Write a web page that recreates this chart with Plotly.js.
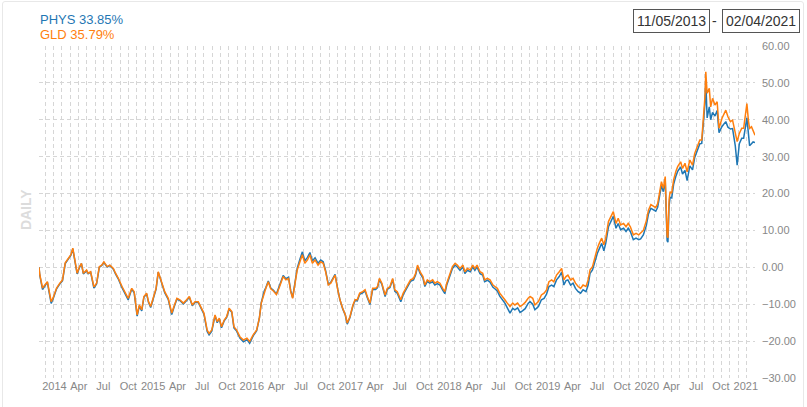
<!DOCTYPE html>
<html><head><meta charset="utf-8">
<script src="https://cdn.plot.ly/plotly-3.0.1.min.js"></script>
<style>
html,body{margin:0;padding:0;background:#fff;overflow:hidden;}
#chart{width:807px;height:407px;}
#frame{position:absolute;left:2px;top:1px;width:800px;height:420px;border:1px solid #e8e8e8;border-radius:3px;pointer-events:none;}
</style></head><body>
<div id="chart"></div><div id="frame"></div>
<script>
const dates = ['2013-11-05','2013-11-08','2013-11-18','2013-11-27','2013-12-06','2013-12-13','2013-12-20','2013-12-27',
'2014-01-09','2014-01-21','2014-01-31','2014-02-10','2014-02-21','2014-03-03','2014-03-10','2014-03-18','2014-03-26',
'2014-04-04','2014-04-11','2014-04-18','2014-04-30','2014-05-06','2014-05-15','2014-05-27','2014-06-06','2014-06-16',
'2014-06-25','2014-07-03','2014-07-15','2014-07-25','2014-08-07','2014-08-15','2014-08-25','2014-09-08','2014-09-19',
'2014-10-01','2014-10-14','2014-10-23','2014-11-03','2014-11-11','2014-11-20','2014-11-28','2014-12-08','2014-12-15',
'2014-12-23','2015-01-02','2015-01-12','2015-01-20','2015-01-26','2015-02-05','2015-02-13','2015-02-26','2015-03-11',
'2015-03-19','2015-03-30','2015-04-10','2015-04-23','2015-05-05','2015-05-15','2015-05-26','2015-06-05','2015-06-17',
'2015-06-30','2015-07-08','2015-07-20','2015-07-27','2015-08-06','2015-08-18','2015-08-26','2015-09-03','2015-09-11',
'2015-09-21','2015-09-30','2015-10-09','2015-10-19','2015-10-27','2015-11-06','2015-11-18','2015-12-01','2015-12-14',
'2015-12-24','2016-01-06','2016-01-19','2016-01-29','2016-02-05','2016-02-16','2016-02-22','2016-03-02','2016-03-11',
'2016-03-21','2016-04-01','2016-04-12','2016-04-26','2016-05-06','2016-05-16','2016-05-24','2016-05-31','2016-06-09',
'2016-06-17','2016-06-27','2016-07-06','2016-07-15','2016-07-25','2016-08-03','2016-08-12','2016-08-22','2016-09-02',
'2016-09-12','2016-09-21','2016-09-30','2016-10-10','2016-10-19','2016-10-28','2016-11-04','2016-11-14','2016-11-22',
'2016-12-02','2016-12-12','2016-12-19','2016-12-29','2017-01-09','2017-01-17','2017-01-25','2017-02-03','2017-02-14',
'2017-02-23','2017-03-03','2017-03-13','2017-03-23','2017-04-03','2017-04-10','2017-04-17','2017-04-26','2017-05-08',
'2017-05-16','2017-05-26','2017-06-05','2017-06-13','2017-06-22','2017-07-05','2017-07-14','2017-07-24','2017-08-02',
'2017-08-10','2017-08-21','2017-08-29','2017-09-05','2017-09-14','2017-09-25','2017-10-02','2017-10-11','2017-10-20',
'2017-10-31','2017-11-08','2017-11-17','2017-11-27','2017-12-07','2017-12-15','2017-12-22','2018-01-03','2018-01-12',
'2018-01-22','2018-01-30','2018-02-09','2018-02-20','2018-02-27','2018-03-08','2018-03-19','2018-03-28','2018-04-05',
'2018-04-13','2018-04-24','2018-05-04','2018-05-11','2018-05-21','2018-05-31','2018-06-11','2018-06-18','2018-06-27',
'2018-07-06','2018-07-17','2018-07-25','2018-08-03','2018-08-13','2018-08-23','2018-08-31','2018-09-10','2018-09-19',
'2018-09-28','2018-10-08','2018-10-19','2018-10-26','2018-11-05','2018-11-13','2018-11-26','2018-12-07','2018-12-17',
'2018-12-26','2019-01-04','2019-01-14','2019-01-22','2019-02-01','2019-02-11','2019-02-20','2019-02-28','2019-03-08',
'2019-03-15','2019-03-25','2019-04-03','2019-04-12','2019-04-22','2019-05-01','2019-05-10','2019-05-21','2019-05-29',
'2019-06-05','2019-06-14','2019-06-24','2019-07-02','2019-07-09','2019-07-18','2019-07-26','2019-08-02','2019-08-12',
'2019-08-20','2019-08-30','2019-09-09','2019-09-17','2019-09-26','2019-10-07','2019-10-16','2019-10-24','2019-11-01',
'2019-11-12','2019-11-22','2019-12-02','2019-12-09','2019-12-19','2019-12-30','2020-01-07','2020-01-16','2020-01-24',
'2020-02-03','2020-02-10','2020-02-19','2020-02-24','2020-03-02','2020-03-09','2020-03-16','2020-03-19','2020-03-23',
'2020-03-27','2020-04-02','2020-04-09','2020-04-17','2020-04-24','2020-05-05','2020-05-12','2020-05-21','2020-05-29',
'2020-06-08','2020-06-18','2020-06-26','2020-07-06','2020-07-15','2020-07-22','2020-07-28','2020-08-03','2020-08-06',
'2020-08-11','2020-08-19','2020-08-24','2020-08-31','2020-09-09','2020-09-17','2020-09-24','2020-10-05','2020-10-12',
'2020-10-19','2020-10-27','2020-11-05','2020-11-13','2020-11-23','2020-11-30','2020-12-08','2020-12-17','2020-12-24',
'2021-01-05','2021-01-11','2021-01-15','2021-01-22','2021-01-28','2021-02-04'];

const gldValues = [0.0,-2.0,-5.6,-4.8,-3.9,-6.6,-9.3,-8.3,
-5.6,-4.3,-3.4,1.2,2.5,3.4,5.2,1.5,-1.6,
0.2,1.1,-1.6,-0.7,-1.6,-1.2,-5.3,-4.3,0.2,
0.6,1.5,0.2,0.6,-0.3,-1.6,-2.9,-5.2,-6.6,
-8.4,-5.7,-6.6,-12.9,-10.2,-11.5,-7.9,-7.0,-9.3,
-10.6,-7.9,-5.7,-1.2,-2.5,-4.3,-6.6,-8.4,-12.4,
-10.6,-8.4,-8.8,-9.7,-8.8,-7.9,-10.2,-9.3,-9.3,
-11.1,-12.4,-17.0,-17.9,-17.0,-12.9,-14.7,-13.8,-16.1,
-14.3,-13.4,-11.1,-12.0,-16.1,-17.0,-18.8,-19.7,-19.2,
-20.1,-18.3,-17.0,-13.8,-9.7,-6.6,-5.7,-3.9,-5.8,
-6.4,-7.4,-5.4,-2.5,-3.4,-3.0,-6.6,-8.4,-4.3,
-0.7,1.5,3.4,1.1,2.0,3.4,1.1,2.0,0.6,
1.5,1.1,-1.2,-4.8,-4.3,-3.0,-2.1,-6.1,-8.8,
-11.1,-12.9,-15.1,-13.4,-10.2,-8.8,-8.8,-7.0,-6.6,
-6.1,-7.9,-9.7,-5.7,-5.7,-5.2,-3.0,-4.3,-7.5,
-5.7,-5.2,-3.0,-6.1,-6.6,-8.8,-7.0,-5.7,-4.3,
-3.4,-3.0,-1.6,0.6,-1.2,-2.5,-4.8,-3.4,-3.9,
-3.4,-4.3,-3.9,-4.3,-5.7,-6.6,-4.3,-1.6,0.2,
1.1,0.6,-0.3,0.6,-1.2,-0.3,-0.7,0.6,-0.3,
0.6,-1.2,-1.6,-3.4,-3.0,-3.4,-4.8,-5.2,-5.7,
-7.0,-7.9,-8.8,-9.7,-10.6,-9.7,-10.2,-9.7,-10.6,
-10.2,-9.5,-8.4,-7.9,-8.4,-10.2,-9.3,-7.5,-7.0,
-6.1,-3.9,-3.4,-3.9,-2.1,-1.2,-0.3,-3.4,-2.5,
-2.1,-3.4,-3.0,-4.3,-5.2,-5.7,-4.8,-5.2,-3.4,
-0.7,0.2,3.4,5.2,6.5,7.9,6.1,7.9,12.4,
13.7,15.1,11.9,13.3,11.5,11.9,11.0,11.9,11.0,
8.8,9.2,8.8,9.3,10.0,12.6,15.5,17.0,16.6,
16.2,17.3,21.9,23.2,21.4,24.6,8.5,8.0,18.2,
20.5,20.1,23.7,25.9,27.3,28.6,26.8,28.2,25.9,
29.1,27.7,30.9,32.7,34.5,34.5,39.9,46.3,53.0,
47.2,48.5,43.5,45.8,44.0,44.9,37.7,40.4,41.3,
42.6,40.8,39.5,39.9,36.3,34.1,36.3,37.7,37.7,
44.4,39.5,37.7,38.1,37.2,35.79];

const physValues = [0.0,-2.2,-6.0,-5.0,-4.0,-7.0,-9.8,-8.6,
-5.8,-4.5,-3.6,1.0,2.3,3.3,5.0,1.4,-1.8,
0.0,1.0,-1.8,-0.9,-1.7,-1.3,-5.6,-4.5,0.0,
0.5,1.3,0.1,0.5,-0.5,-1.8,-3.1,-5.5,-6.9,
-8.8,-5.9,-6.9,-13.2,-10.5,-11.8,-8.1,-7.2,-9.5,
-10.9,-8.1,-5.9,-1.3,-2.7,-4.5,-6.9,-8.7,-12.8,
-10.9,-8.6,-9.0,-9.9,-9.0,-8.1,-10.4,-9.5,-9.5,
-11.4,-12.7,-17.4,-18.3,-17.3,-13.1,-15.0,-14.0,-16.4,
-14.5,-13.6,-11.3,-12.2,-16.4,-17.3,-19.2,-20.2,-19.6,
-20.6,-18.6,-17.2,-13.8,-9.6,-6.4,-5.5,-3.7,-5.6,
-6.2,-7.2,-5.2,-2.2,-3.1,-2.7,-6.4,-8.2,-4.0,
-0.2,2.2,4.2,1.8,2.7,4.0,1.7,2.6,1.1,
2.0,1.5,-0.9,-4.6,-4.1,-2.8,-1.9,-6.0,-8.8,
-11.2,-13.0,-15.4,-13.6,-10.4,-9.0,-9.1,-7.3,-6.9,
-6.4,-8.2,-10.1,-6.0,-6.0,-5.5,-3.3,-4.6,-7.9,
-6.0,-5.5,-3.3,-6.5,-7.0,-9.3,-7.4,-6.1,-4.7,
-3.8,-3.4,-2.0,0.2,-1.6,-2.9,-5.2,-3.8,-4.3,
-3.9,-4.8,-4.4,-4.8,-6.2,-7.1,-4.8,-2.1,-0.3,
0.6,0.1,-0.8,0.1,-1.7,-0.8,-1.2,0.1,-0.8,
0.1,-1.7,-2.1,-3.9,-3.5,-4.0,-5.4,-5.8,-6.4,
-7.8,-8.8,-9.7,-11.0,-12.4,-11.1,-11.5,-11.0,-12.2,
-11.8,-11.2,-9.8,-9.3,-10.0,-11.5,-10.6,-8.8,-8.4,
-7.3,-5.2,-4.8,-5.2,-3.4,-2.5,-1.3,-4.8,-3.6,
-3.4,-4.8,-4.3,-5.7,-6.6,-7.0,-6.1,-6.6,-4.8,
-1.6,-0.7,2.0,3.8,5.0,6.5,4.5,6.5,11.0,
12.4,13.8,10.6,11.9,10.2,10.6,9.7,10.6,9.7,
7.5,7.9,7.5,7.7,8.8,11.3,14.5,16.0,15.6,
15.2,16.3,21.0,22.2,20.5,23.6,7.2,6.8,16.5,
19.0,18.8,22.5,24.6,26.0,27.2,25.3,26.3,23.5,
27.5,26.4,29.8,31.8,33.5,33.6,38.7,44.5,50.5,
40.5,43.5,40.0,42.0,41.0,42.5,36.5,38.2,39.0,
39.5,38.0,37.5,37.6,33.0,27.7,33.5,35.0,35.0,
40.5,35.5,33.0,33.5,34.0,33.85];

const seriesNames = ['PHYS', 'GLD'];
const seriesColors = ['#1f77b4', '#ff7f0e'];
const finalReturns = [33.85, 35.79];
const dateRange = ['2013-11-05', '2021-02-04'];
const tickDates = ['2014-01-01','2014-04-01','2014-07-01','2014-10-01','2015-01-01','2015-04-01','2015-07-01','2015-10-01',
'2016-01-01','2016-04-01','2016-07-01','2016-10-01','2017-01-01','2017-04-01','2017-07-01','2017-10-01',
'2018-01-01','2018-04-01','2018-07-01','2018-10-01','2019-01-01','2019-04-01','2019-07-01','2019-10-01',
'2020-01-01','2020-04-01','2020-07-01','2020-10-01','2021-01-01'];
const tickLabels = ['2014','Apr','Jul','Oct','2015','Apr','Jul','Oct','2016','Apr','Jul','Oct','2017','Apr','Jul','Oct',
'2018','Apr','Jul','Oct','2019','Apr','Jul','Oct','2020','Apr','Jul','Oct','2021'];
const yAxisTitle = 'DAILY';

const FONT = 'Arial, "Liberation Sans", sans-serif';
const gridColor = '#d6d6d6';
const gridDash = '4px,3px';

function fmtDate(s){ const p = s.split('-'); return p[1] + '/' + p[2] + '/' + p[0]; }

const traces = [
  {x: dates, y: physValues, name: seriesNames[0], type: 'scatter', mode: 'lines',
   line: {color: seriesColors[0], width: 1.5}},
  {x: dates, y: gldValues, name: seriesNames[1], type: 'scatter', mode: 'lines',
   line: {color: seriesColors[1], width: 1.5}}
];

const annotations = [
  {xref:'paper', yref:'paper', x:-0.0014, y:1.0813, xanchor:'left', yanchor:'middle', showarrow:false,
   text: seriesNames[0] + ' ' + finalReturns[0].toFixed(2) + '%', font:{family:FONT, size:13, color:seriesColors[0]}},
  {xref:'paper', yref:'paper', x:-0.0014, y:1.0361, xanchor:'left', yanchor:'middle', showarrow:false,
   text: seriesNames[1] + ' ' + finalReturns[1].toFixed(2) + '%', font:{family:FONT, size:13, color:seriesColors[1]}},
  {xref:'paper', yref:'paper', x:0.8831, y:1.0753, xanchor:'center', yanchor:'middle', showarrow:false,
   text: fmtDate(dateRange[0]), font:{family:FONT, size:14, color:'#333'}, bordercolor:'#555', borderwidth:1, borderpad:3},
  {xref:'paper', yref:'paper', x:0.9441, y:1.0753, xanchor:'center', yanchor:'middle', showarrow:false,
   text: '-', font:{family:FONT, size:14, color:'#333'}},
  {xref:'paper', yref:'paper', x:1.0081, y:1.0753, xanchor:'center', yanchor:'middle', showarrow:false,
   text: fmtDate(dateRange[1]), font:{family:FONT, size:14, color:'#333'}, bordercolor:'#555', borderwidth:1, borderpad:3},
  {xref:'paper', yref:'paper', x:-0.018, y:0.506, xanchor:'center', yanchor:'middle', showarrow:false, textangle:-90,
   text: '<b>' + yAxisTitle + '</b>', font:{family:FONT, size:14, color:'#dcdcdc'}}
];

const layout = {
  width: 807, height: 407,
  margin: {l:39, r:52, t:46, b:29, pad:0},
  paper_bgcolor: '#fff', plot_bgcolor: '#fff',
  showlegend: false,
  font: {family: FONT, color: '#888'},
  xaxis: {
    type: 'date', range: dateRange, tickmode: 'array', tickvals: tickDates, ticktext: tickLabels,
    showgrid: false, zeroline: false, showline: false, ticks: '',
    tickfont: {family: FONT, size: 11, color: '#888'},
    minor: {tick0: dateRange[1], dtick: 2668896000, showgrid: true, gridcolor: gridColor, griddash: gridDash, gridwidth: 1, ticks: ''}
  },
  yaxis: {
    side: 'right', range: [-30, 60], tickmode: 'linear', tick0: 0, dtick: 10, tickformat: '.2f',
    showgrid: true, gridcolor: gridColor, griddash: gridDash, gridwidth: 1,
    zeroline: false, showline: false, ticks: '', ticklabelstandoff: 6,
    tickfont: {family: FONT, size: 11, color: '#888'}
  },
  annotations: annotations
};

Plotly.newPlot('chart', traces, layout, {staticPlot: true, displayModeBar: false});
</script>
</body></html>
